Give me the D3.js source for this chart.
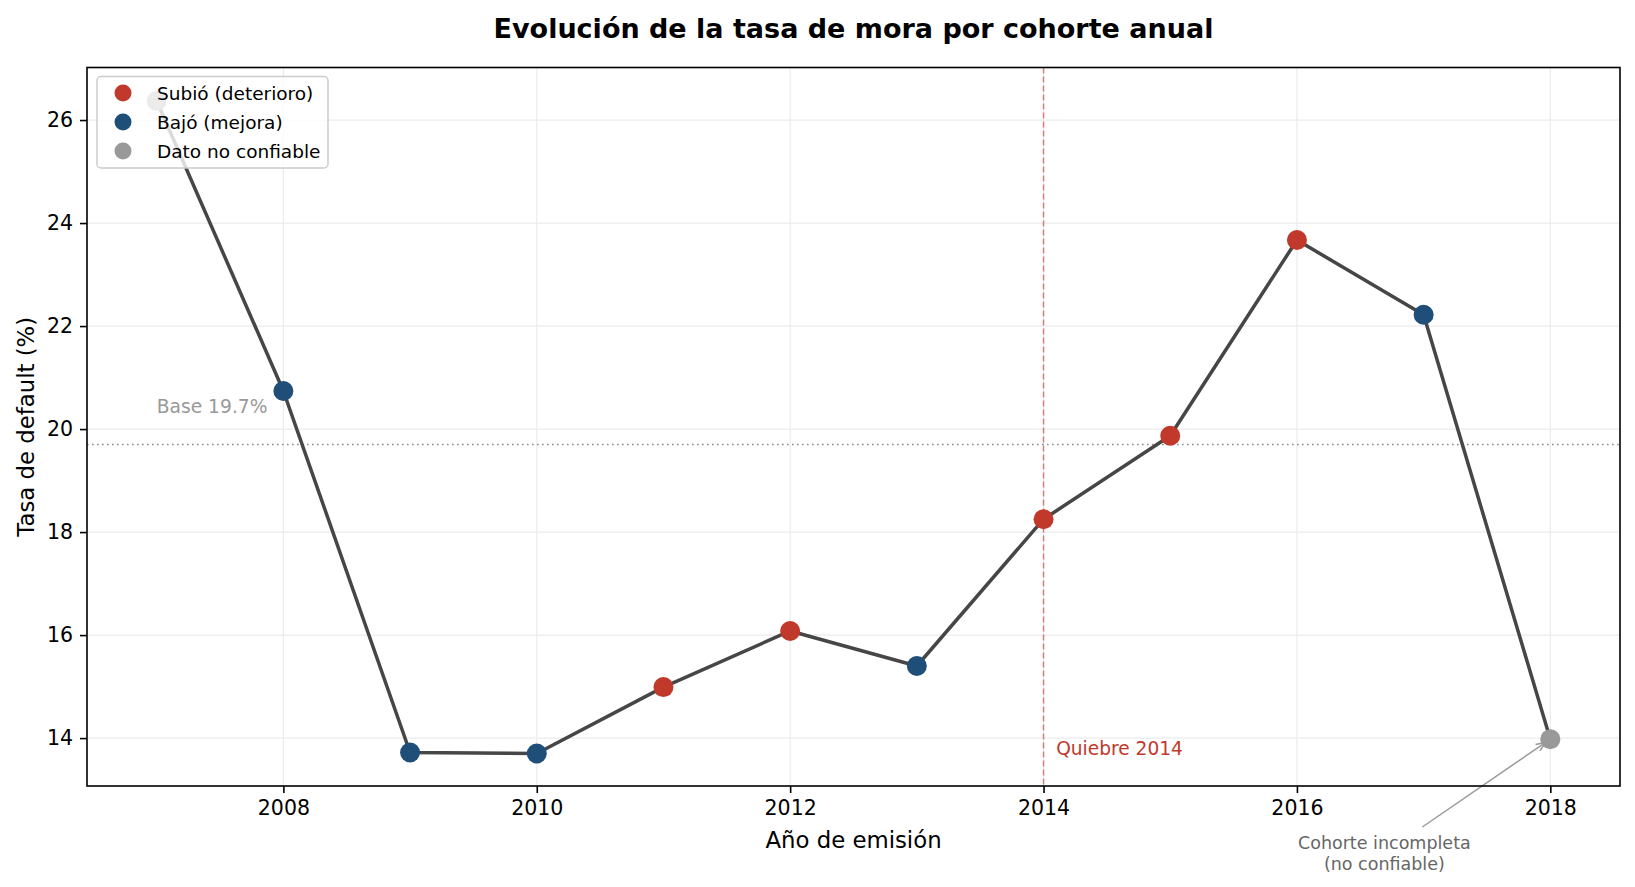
<!DOCTYPE html>
<html>
<head>
<meta charset="utf-8">
<script src="https://cdn.jsdelivr.net/npm/d3@7"></script>
<style>
  body { margin: 0; background: #fff; }
  svg { font-family: "DejaVu Sans", sans-serif; }
</style>
</head>
<body>
<svg id="chart" width="1635" height="887"></svg>
<script>
// Cohort years and default rate (%)
const years = [2007, 2008, 2009, 2010, 2011, 2012, 2013, 2014, 2015, 2016, 2017, 2018];
const rates = [26.37, 20.74, 13.72, 13.70, 14.99, 16.08, 15.40, 18.25, 19.87, 23.67, 22.22, 13.98];
// status per point: "sube", "baja", "nc" (no confiable)
const status = ["nc", "baja", "baja", "baja", "sube", "sube", "baja", "sube", "sube", "sube", "baja", "nc"];
const xTicks = [2008, 2010, 2012, 2014, 2016, 2018];
const yTicks = [14, 16, 18, 20, 22, 24, 26];
const baseRate = 19.7;
const breakYear = 2014;

const colors = { sube: "#c0392b", baja: "#1f4e79", nc: "#999999" };
const legendItems = [
  { key: "sube", label: "Subió (deterioro)" },
  { key: "baja", label: "Bajó (mejora)" },
  { key: "nc", label: "Dato no confiable" },
];

const data = years.map((y, i) => ({ year: y, rate: rates[i], status: status[i] }));

const svg = d3.select("#chart");
const plotL = 87, plotR = 1620, plotT = 67.5, plotB = 786;

const x = d3.scaleLinear().domain([2006.45, 2018.55]).range([plotL, plotR]);
const y = d3.scaleLinear().domain([13.07, 27.02]).range([plotB, plotT]);

// grid
const grid = svg.append("g");
grid.selectAll(".gx").data(xTicks).enter().append("line")
  .attr("x1", d => x(d)).attr("x2", d => x(d))
  .attr("y1", plotT).attr("y2", plotB)
  .attr("stroke", "#ebebeb").attr("stroke-width", 1.2);
grid.selectAll(".gy").data(yTicks).enter().append("line")
  .attr("x1", plotL).attr("x2", plotR)
  .attr("y1", d => y(d)).attr("y2", d => y(d))
  .attr("stroke", "#ebebeb").attr("stroke-width", 1.2);

// base line
svg.append("line")
  .attr("x1", plotL).attr("x2", plotR)
  .attr("y1", y(baseRate)).attr("y2", y(baseRate))
  .attr("stroke", "#8a8a8a").attr("stroke-width", 1.4)
  .attr("stroke-dasharray", "1.6,3.4");
svg.append("text")
  .attr("x", x(2007)).attr("y", y(20.31))
  .attr("font-size", 18.7).attr("fill", "#999999")
  .text(`Base ${baseRate}%`);

// break line
svg.append("line")
  .attr("x1", x(breakYear)).attr("x2", x(breakYear))
  .attr("y1", plotT).attr("y2", plotB)
  .attr("stroke", "#c0392b").attr("stroke-opacity", 0.6).attr("stroke-width", 1.5)
  .attr("stroke-dasharray", "6,3");
svg.append("text")
  .attr("x", x(breakYear + 0.1)).attr("y", y(13.68))
  .attr("font-size", 18.6).attr("fill", "#c0392b")
  .text("Quiebre 2014");

// main line
const line = d3.line().x(d => x(d.year)).y(d => y(d.rate));
svg.append("path")
  .datum(data)
  .attr("d", line)
  .attr("fill", "none")
  .attr("stroke", "#464646")
  .attr("stroke-width", 3.5)
  .attr("stroke-linejoin", "round");

// markers
svg.append("g").selectAll("circle").data(data).enter().append("circle")
  .attr("cx", d => x(d.year)).attr("cy", d => y(d.rate))
  .attr("r", 10)
  .attr("fill", d => colors[d.status]);

// annotation for last cohort
const last = data[data.length - 1];
const annX = x(2016.69);
const ax0 = annX + 38, ay0 = 827;
const px = x(last.year), py = y(last.rate);
const ang = Math.atan2(py - ay0, px - ax0);
const ax1 = px - 6 * Math.cos(ang), ay1 = py - 6 * Math.sin(ang);
svg.append("line")
  .attr("x1", ax0).attr("y1", ay0).attr("x2", ax1).attr("y2", ay1)
  .attr("stroke", "#999999").attr("stroke-width", 1.5);
const hl = 10, ha = 0.4;
svg.append("path")
  .attr("d", `M${ax1 - hl * Math.cos(ang - ha)},${ay1 - hl * Math.sin(ang - ha)}L${ax1},${ay1}L${ax1 - hl * Math.cos(ang + ha)},${ay1 - hl * Math.sin(ang + ha)}`)
  .attr("fill", "none").attr("stroke", "#999999").attr("stroke-width", 1.5);
const ann = svg.append("text")
  .attr("text-anchor", "middle").attr("font-size", 17.5).attr("fill", "#666666");
ann.append("tspan").attr("x", annX).attr("y", 849).text("Cohorte incompleta");
ann.append("tspan").attr("x", annX).attr("y", 870).text("(no confiable)");

// axes
const xAxis = d3.axisBottom(x).tickValues(xTicks).tickFormat(d3.format("d"))
  .tickSize(7).tickPadding(7).tickSizeOuter(0);
const yAxis = d3.axisLeft(y).tickValues(yTicks).tickFormat(d3.format("d"))
  .tickSize(7).tickPadding(7).tickSizeOuter(0);
const gx = svg.append("g").attr("transform", `translate(0,${plotB})`).call(xAxis);
const gy = svg.append("g").attr("transform", `translate(${plotL},0)`).call(yAxis);
[gx, gy].forEach(g => {
  g.select(".domain").remove();
  g.selectAll("line").attr("stroke", "#000").attr("stroke-width", 1.6);
  g.selectAll("text").attr("font-size", 20.5).attr("fill", "#000")
    .attr("font-family", "DejaVu Sans, sans-serif");
});

// legend
const lg = svg.append("g");
lg.append("rect")
  .attr("x", 97).attr("y", 76.5).attr("width", 231).attr("height", 91.5)
  .attr("rx", 4).attr("fill", "#fff").attr("fill-opacity", 0.8)
  .attr("stroke", "#cccccc").attr("stroke-width", 1.5);
legendItems.forEach((it, i) => {
  const cy = 93 + i * 29;
  lg.append("circle").attr("cx", 123).attr("cy", cy).attr("r", 8.5).attr("fill", colors[it.key]);
  lg.append("text").attr("x", 157).attr("y", cy + 6.5)
    .attr("font-size", 18.5).attr("fill", "#000").text(it.label);
});

// frame
svg.append("rect")
  .attr("x", plotL).attr("y", plotT).attr("width", plotR - plotL).attr("height", plotB - plotT)
  .attr("fill", "none").attr("stroke", "#000").attr("stroke-width", 1.6);

// labels
svg.append("text")
  .attr("x", (plotL + plotR) / 2).attr("y", 38)
  .attr("text-anchor", "middle").attr("font-size", 27).attr("font-weight", "bold")
  .text("Evolución de la tasa de mora por cohorte anual");
svg.append("text")
  .attr("x", (plotL + plotR) / 2).attr("y", 848)
  .attr("text-anchor", "middle").attr("font-size", 22.8)
  .text("Año de emisión");
svg.append("text")
  .attr("transform", `translate(34,${(plotT + plotB) / 2}) rotate(-90)`)
  .attr("text-anchor", "middle").attr("font-size", 22.8)
  .text("Tasa de default (%)");
</script>
</body>
</html>
